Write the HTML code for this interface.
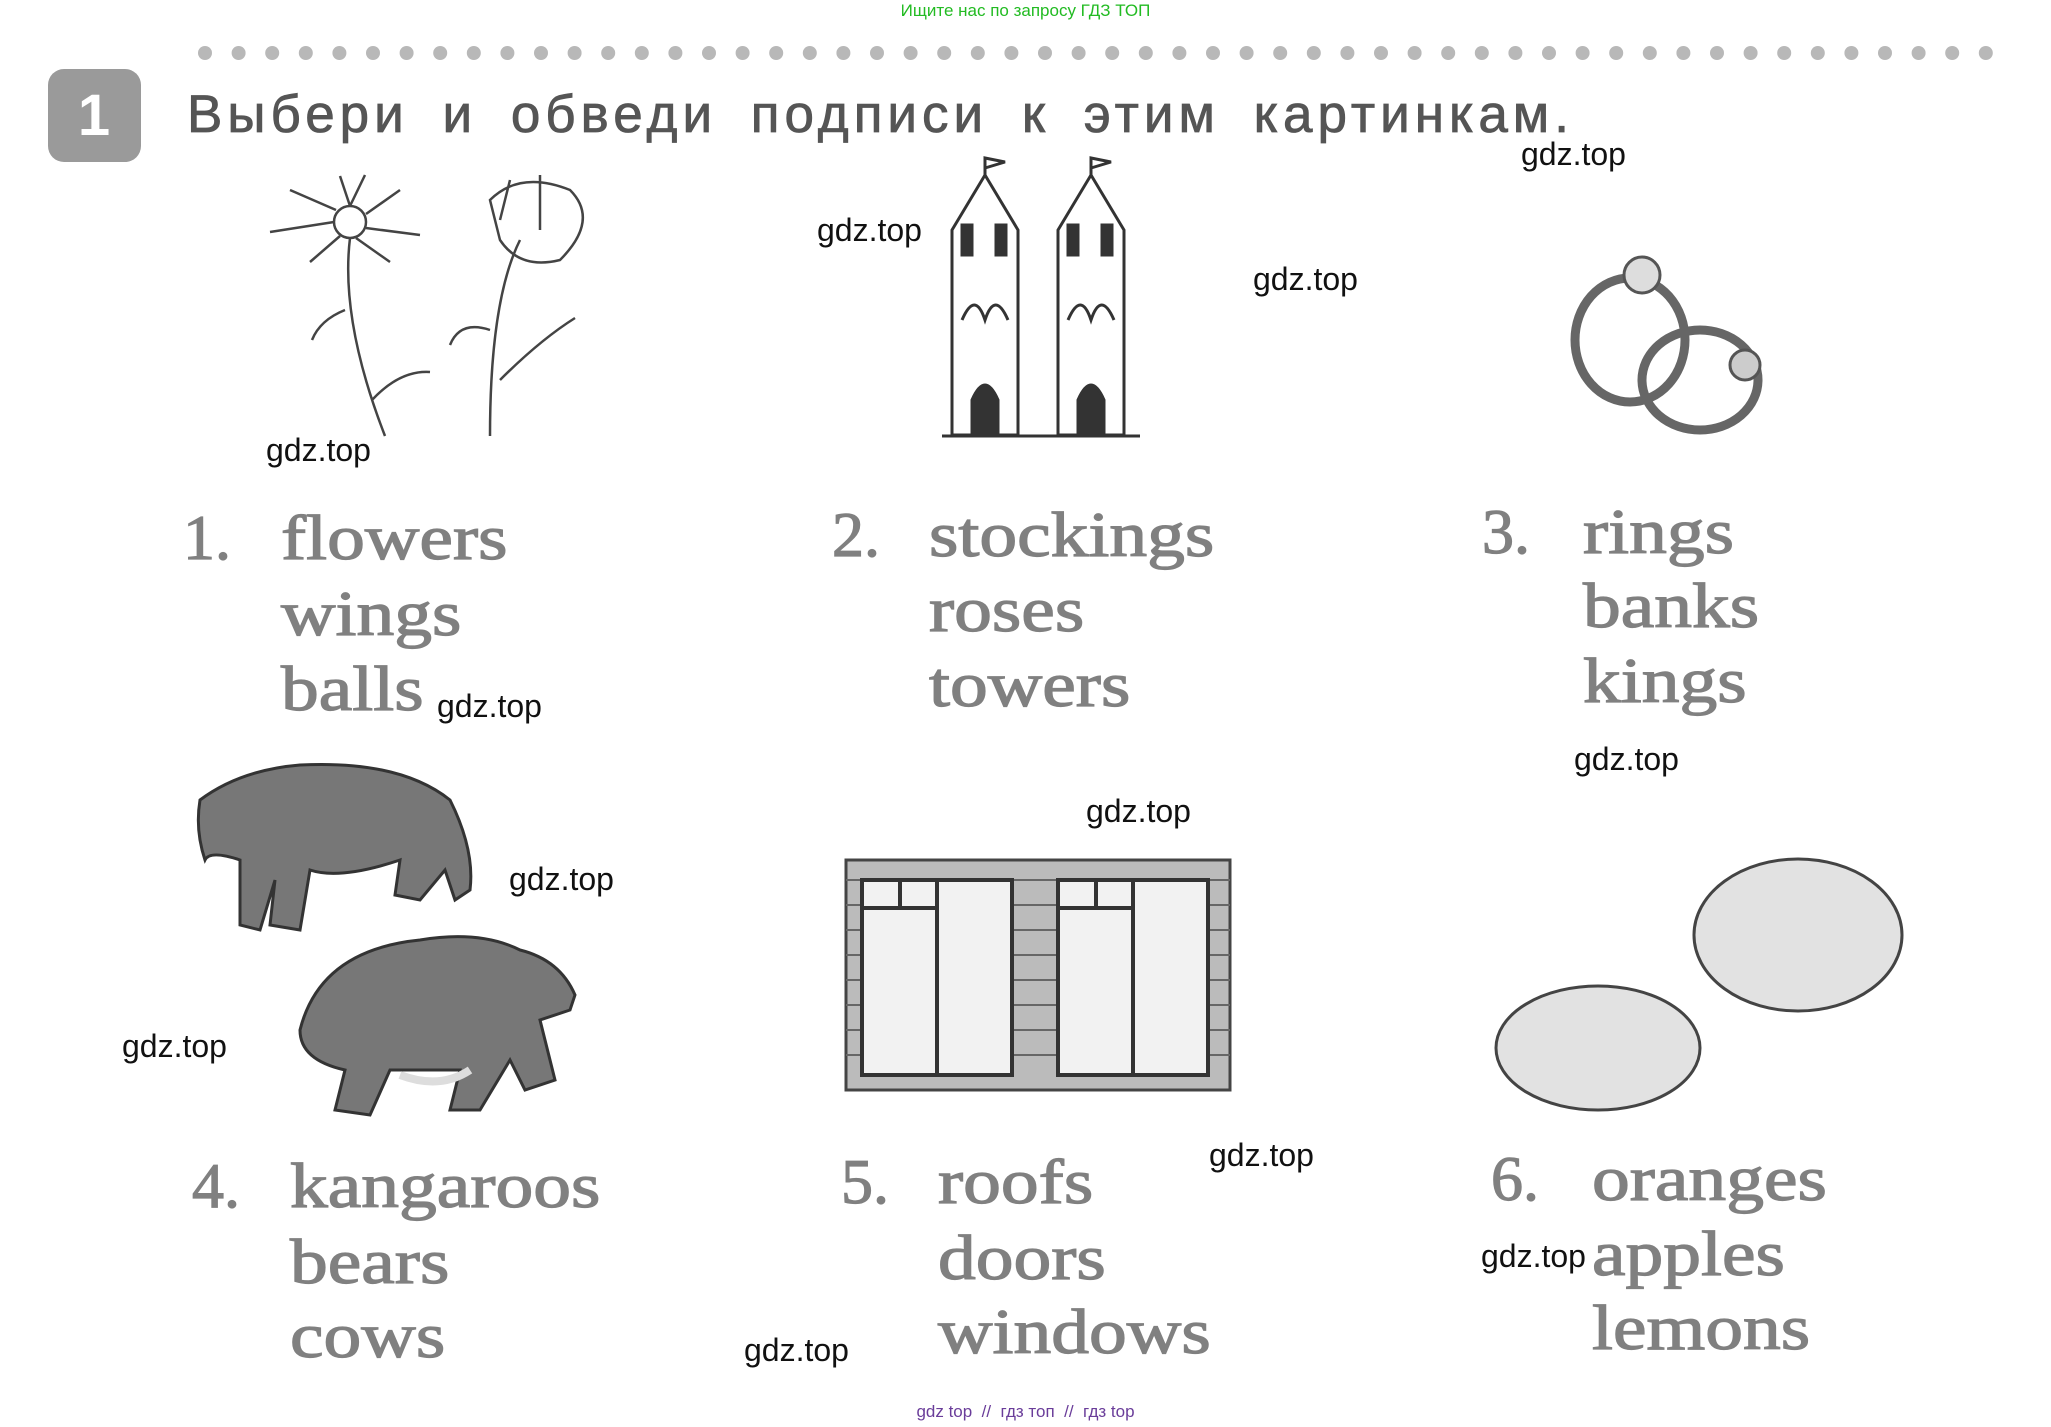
<!DOCTYPE html>
<html><head><meta charset="utf-8"><style>
body{margin:0;width:2051px;height:1427px;background:#fff;position:relative;overflow:hidden;font-family:"Liberation Sans",sans-serif}
.a{position:absolute;white-space:nowrap}
.g{font-family:"Liberation Sans",sans-serif;font-size:32px;color:#111;line-height:1}
.w{font-family:"Liberation Serif",serif;font-size:64px;color:#808080;-webkit-text-stroke:1.2px #808080;line-height:1;transform:scaleX(1.18);transform-origin:0 0}
.n{font-family:"Liberation Serif",serif;font-size:64px;color:#808080;-webkit-text-stroke:1.2px #808080;line-height:1}
</style></head><body>
<div class="a" style="left:0;width:2051px;text-align:center;top:1px;font-size:17px;color:#22bb22">Ищите нас по запросу ГДЗ ТОП</div>
<svg class="a" style="left:0;top:0" width="2051" height="1427">
<g fill="#b8b8b8" id="dots"></g>
<rect x="48" y="69" width="93" height="93" rx="16" fill="#9a9a9a"/>
<text x="94" y="135" font-family="Liberation Sans" font-weight="bold" font-size="58" fill="#fff" text-anchor="middle">1</text>
<g stroke="#444" stroke-width="2.5" fill="none">
<circle cx="350" cy="222" r="16"/>
<path d="M350 206 L340 176 M366 214 L400 190 M366 228 L420 235 M356 238 L390 262 M340 236 L310 262 M334 222 L270 232 M336 210 L290 190 M350 206 L365 175"/>
<path d="M350 238 Q340 320 385 436 M345 310 Q320 320 312 340 M372 400 Q400 370 430 372"/>
<path d="M520 240 Q490 300 490 436 M490 330 Q460 320 450 345 M500 380 Q540 340 575 318"/>
<path d="M490 200 Q520 170 570 190 Q600 220 560 260 Q520 270 500 240 Z M510 180 L500 220 M540 175 L540 230"/>
</g>
<g stroke="#333" stroke-width="3" fill="#fff">
<path d="M952 435 V230 L985 175 L1018 230 V435 Z"/>
<path d="M1058 435 V230 L1091 175 L1124 230 V435 Z"/>
<line x1="942" y1="436" x2="1140" y2="436"/>
<path d="M985 175 V158 L1005 162 L985 168 M1091 175 V158 L1111 162 L1091 168" fill="none"/>
<path d="M972 400 Q985 370 998 400 V435 H972 Z M1078 400 Q1091 370 1104 400 V435 H1078 Z" fill="#333"/>
<rect x="962" y="225" width="10" height="30" fill="#333"/><rect x="996" y="225" width="10" height="30" fill="#333"/>
<rect x="1068" y="225" width="10" height="30" fill="#333"/><rect x="1102" y="225" width="10" height="30" fill="#333"/>
<path d="M962 320 Q975 290 985 320 Q995 290 1008 320 M1068 320 Q1081 290 1091 320 Q1101 290 1114 320" fill="none"/>
</g>
<g stroke="#666" stroke-width="9" fill="none">
<ellipse cx="1630" cy="340" rx="55" ry="62"/>
<ellipse cx="1700" cy="380" rx="58" ry="50"/>
</g>
<circle cx="1642" cy="275" r="18" fill="#ddd" stroke="#555" stroke-width="3"/>
<circle cx="1745" cy="365" r="15" fill="#ccc" stroke="#555" stroke-width="3"/>
<path d="M200 800 Q240 770 300 765 Q400 760 450 800 Q475 850 470 890 L455 900 L445 870 L420 900 L395 895 L400 860 Q340 880 310 870 L300 930 L270 925 L275 880 L260 930 L240 925 L240 860 Q210 850 205 860 Q195 830 200 800Z" fill="#777" stroke="#333" stroke-width="3"/>
<path d="M300 1030 Q320 950 420 940 Q480 930 520 950 Q560 960 575 995 L570 1010 L540 1020 L555 1080 L525 1090 L510 1060 L480 1110 L450 1110 L460 1070 L390 1070 L370 1115 L335 1110 L345 1070 Q300 1060 300 1030Z" fill="#777" stroke="#333" stroke-width="3"/>
<path d="M400 1075 Q440 1090 470 1070" stroke="#ddd" stroke-width="8" fill="none"/>
<rect x="846" y="860" width="384" height="230" fill="#bbb" stroke="#444" stroke-width="3"/>
<g stroke="#666" stroke-width="2">
<path d="M846 880H1230M846 905H1230M846 930H1230M846 955H1230M846 980H1230M846 1005H1230M846 1030H1230M846 1055H1230"/>
</g>
<rect x="862" y="880" width="150" height="195" fill="#f2f2f2" stroke="#333" stroke-width="4"/>
<rect x="1058" y="880" width="150" height="195" fill="#f2f2f2" stroke="#333" stroke-width="4"/>
<path d="M937 880V1075M862 908H937M1133 880V1075M1058 908H1133M900 880V908M1096 880V908" stroke="#333" stroke-width="4"/>
<ellipse cx="1598" cy="1048" rx="102" ry="62" fill="#e2e2e2" stroke="#444" stroke-width="3"/>
<ellipse cx="1798" cy="935" rx="104" ry="76" fill="#e2e2e2" stroke="#444" stroke-width="3"/>
</svg>
<script>
var g=document.getElementById('dots'),s='';for(var x=205;x<2000;x+=33.6){s+='<circle cx="'+x+'" cy="53" r="7"/>';}g.innerHTML=s;
</script>
<div class="a" style="left:187px;top:84px;font-size:53px;color:#555;letter-spacing:5px;word-spacing:14px;-webkit-text-stroke:0.8px #555">Выбери и обведи подписи к этим картинкам.</div>

<div class="a n" style="left:183px;top:506px">1.</div>
<div class="a w" style="left:281px;top:506px">flowers</div>
<div class="a w" style="left:281px;top:582px">wings</div>
<div class="a w" style="left:281px;top:657px">balls</div>

<div class="a n" style="left:832px;top:503px">2.</div>
<div class="a w" style="left:929px;top:503px">stockings</div>
<div class="a w" style="left:929px;top:578px">roses</div>
<div class="a w" style="left:929px;top:653px">towers</div>

<div class="a n" style="left:1482px;top:500px">3.</div>
<div class="a w" style="left:1583px;top:500px">rings</div>
<div class="a w" style="left:1583px;top:574px">banks</div>
<div class="a w" style="left:1583px;top:649px">kings</div>

<div class="a n" style="left:192px;top:1154px">4.</div>
<div class="a w" style="left:290px;top:1154px">kangaroos</div>
<div class="a w" style="left:290px;top:1230px">bears</div>
<div class="a w" style="left:290px;top:1304px">cows</div>

<div class="a n" style="left:841px;top:1150px">5.</div>
<div class="a w" style="left:938px;top:1150px">roofs</div>
<div class="a w" style="left:938px;top:1226px">doors</div>
<div class="a w" style="left:938px;top:1300px">windows</div>

<div class="a n" style="left:1491px;top:1147px">6.</div>
<div class="a w" style="left:1592px;top:1147px">oranges</div>
<div class="a w" style="left:1592px;top:1222px">apples</div>
<div class="a w" style="left:1592px;top:1296px">lemons</div>

<div class="a g" style="left:817px;top:214px">gdz.top</div>
<div class="a g" style="left:1253px;top:263px">gdz.top</div>
<div class="a g" style="left:1521px;top:138px">gdz.top</div>
<div class="a g" style="left:266px;top:434px">gdz.top</div>
<div class="a g" style="left:437px;top:690px">gdz.top</div>
<div class="a g" style="left:1574px;top:743px">gdz.top</div>
<div class="a g" style="left:1086px;top:795px">gdz.top</div>
<div class="a g" style="left:509px;top:863px">gdz.top</div>
<div class="a g" style="left:122px;top:1030px">gdz.top</div>
<div class="a g" style="left:1209px;top:1139px">gdz.top</div>
<div class="a g" style="left:1481px;top:1240px">gdz.top</div>
<div class="a g" style="left:744px;top:1334px">gdz.top</div>
<div class="a" style="left:0;width:2051px;text-align:center;top:1402px;font-size:17px;color:#6a3d9a">gdz top &nbsp;// &nbsp;гдз топ &nbsp;// &nbsp;гдз top</div>
</body></html>
